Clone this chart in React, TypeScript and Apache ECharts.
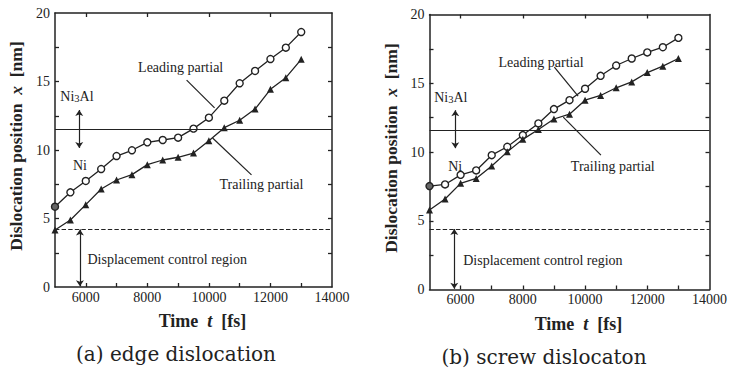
import React, { useEffect, useRef } from "react";
import * as echarts from "echarts";

// Sampling times [fs]
const times = [5000, 5500, 6000, 6500, 7000, 7500, 8000, 8500, 9000, 9500, 10000, 10500, 11000, 11500, 12000, 12500, 13000];

// Edge dislocation: partial positions [nm]
const edgeLeading = [5.86, 6.91, 7.74, 8.61, 9.56, 9.98, 10.56, 10.73, 10.9, 11.56, 12.36, 13.6, 14.87, 15.77, 16.64, 17.47, 18.61];
const edgeTrailing = [4.16, 4.89, 6.01, 7.15, 7.81, 8.2, 8.93, 9.27, 9.47, 9.78, 10.68, 11.63, 12.17, 12.99, 14.43, 15.28, 16.62];

// Screw dislocation: partial positions [nm]
const screwLeading = [7.52, 7.64, 8.34, 8.66, 9.77, 10.38, 11.23, 12.08, 13.12, 13.77, 14.6, 15.54, 16.29, 16.8, 17.24, 17.62, 18.3];
const screwTrailing = [5.78, 6.58, 7.72, 8.08, 8.98, 10.01, 10.92, 11.64, 12.4, 12.75, 13.77, 14.11, 14.67, 15.1, 15.78, 16.24, 16.8];

// Ni / Ni3Al interface and edge of the displacement-controlled region [nm]
const interfaceLevel = [11.5, 11.6];
const controlLevel = [4.2, 4.4];

// Axis ticks
const xTickLabels = [6000, 8000, 10000, 12000, 14000];
const xTicksBottom = [6000, 7000, 8000, 9000, 10000, 11000, 12000, 13000];
const xTicksTop = [6000, 8000, 10000, 12000];
const yTickLabels = [0, 5, 10, 15, 20];
const yTicks = [2.5, 5, 7.5, 10, 12.5, 15, 17.5];

const captions = ["(a) edge dislocation", "(b) screw dislocaton"];

const INK = "#222";
const SERIF = "'Liberation Serif', 'Times New Roman', serif";

type Note = { at: [number, number]; text: string };
type Seg = { from: [number, number]; to: [number, number]; arrows?: boolean };

// Annotation anchors in data coordinates (time, position)
const notesA: Note[] = [
  { at: [9083, 16.0], text: "Leading partial" },
  { at: [11708, 7.45], text: "Trailing partial" },
  { at: [5713, 13.87], text: "Ni{s|3}Al" },
  { at: [5810, 8.9], text: "Ni" },
  { at: [8646, 2.04], text: "Displacement control region" },
];
const segsA: Seg[] = [
  { from: [9277, 15.1], to: [10185, 13.07] },
  { from: [10120, 10.88], to: [11384, 8.18] },
  { from: [5787, 12.92], to: [5787, 10.15], arrows: true },
  { from: [5810, 4.2], to: [5810, 0.05], arrows: true },
];
const notesB: Note[] = [
  { at: [8583, 16.53], text: "Leading partial" },
  { at: [10892, 8.98], text: "Trailing partial" },
  { at: [5685, 13.99], text: "Ni{s|3}Al" },
  { at: [5828, 8.98], text: "Ni" },
  { at: [8646, 2.14], text: "Displacement control region" },
];
const segsB: Seg[] = [
  { from: [9013, 16.17], to: [9777, 14.06] },
  { from: [9299, 12.54], to: [10510, 9.77] },
  { from: [5828, 13.04], to: [5828, 10.28], arrows: true },
  { from: [5796, 4.4], to: [5796, 0.05], arrows: true },
];

const axisLine = { show: true, onZero: false, lineStyle: { color: INK, width: 1.5 } };
const plain = (v: number) => String(v);

function xAxes(grid: number) {
  return [
    {
      type: "value", gridIndex: grid, position: "bottom", min: 5000, max: 14000, interval: 1000,
      axisLine,
      axisTick: { show: true, inside: true, length: 4, customValues: xTicksBottom, lineStyle: { color: INK, width: 1.3 } },
      axisLabel: { customValues: xTickLabels, formatter: plain, color: INK, fontFamily: SERIF, fontSize: 14, margin: 3 },
      splitLine: { show: false },
      name: "Time  {i|t}  [fs]", nameLocation: "middle", nameGap: 25,
      nameTextStyle: {
        color: INK, fontFamily: SERIF, fontSize: 18, fontWeight: "bold", padding: [0, 0, 0, 18],
        rich: { i: { fontFamily: SERIF, fontSize: 18, fontWeight: "bold", fontStyle: "italic", color: INK } },
      },
    },
    {
      type: "value", gridIndex: grid, position: "top", min: 5000, max: 14000, interval: 1000,
      axisLine,
      axisTick: { show: true, inside: true, length: 4, customValues: xTicksTop, lineStyle: { color: INK, width: 1.3 } },
      axisLabel: { show: false }, splitLine: { show: false },
    },
  ];
}

function yAxes(grid: number) {
  return [
    {
      type: "value", gridIndex: grid, position: "left", min: 0, max: 20, interval: 2.5,
      axisLine,
      axisTick: { show: true, inside: true, length: 4, customValues: yTicks, lineStyle: { color: INK, width: 1.3 } },
      axisLabel: { customValues: yTickLabels, formatter: plain, color: INK, fontFamily: SERIF, fontSize: 14, margin: 5 },
      splitLine: { show: false },
      name: "Dislocation position  {i|x}  [nm]", nameLocation: "middle", nameGap: 30, nameRotate: 90,
      nameTextStyle: {
        color: INK, fontFamily: SERIF, fontSize: 17.5, fontWeight: "bold", padding: [0, 0, 0, 8],
        rich: { i: { fontFamily: SERIF, fontSize: 17.5, fontWeight: "bold", fontStyle: "italic", color: INK } },
      },
    },
    {
      type: "value", gridIndex: grid, position: "right", min: 0, max: 20, interval: 2.5,
      axisLine,
      axisTick: { show: true, inside: true, length: 4, customValues: yTicks, lineStyle: { color: INK, width: 1.3 } },
      axisLabel: { show: false }, splitLine: { show: false },
    },
  ];
}

function panelSeries(panel: number, leading: number[], trailing: number[], notes: Note[], segs: Seg[]) {
  const xi = panel * 2;
  const yi = panel * 2;
  const leadData = times.map((t, i) =>
    i === 0 ? { value: [t, leading[i]], itemStyle: { color: "#666" } } : [t, leading[i]]
  );
  const trailData = times.map((t, i) => [t, trailing[i]]);
  return [
    {
      type: "line", xAxisIndex: xi, yAxisIndex: yi, data: leadData,
      symbol: "circle", symbolSize: 7, showSymbol: true,
      lineStyle: { color: INK, width: 1.3 },
      itemStyle: { color: "#fff", borderColor: INK, borderWidth: 1.4 },
      z: 3,
      markLine: {
        silent: true, symbol: "none", label: { show: false },
        lineStyle: { color: INK, width: 1.2, type: "solid" },
        data: [
          { yAxis: interfaceLevel[panel], lineStyle: { type: "solid", width: 1.2, color: INK } },
          { yAxis: controlLevel[panel], lineStyle: { type: "dashed", width: 1.1, color: INK } },
          ...segs.map((s) => [
            { coord: s.from, symbol: s.arrows ? "arrow" : "none", symbolSize: 6 },
            { coord: s.to, symbol: s.arrows ? "arrow" : "none", symbolSize: 6 },
          ]),
        ],
      },
      markPoint: {
        silent: true, symbol: "circle", symbolSize: 1,
        itemStyle: { color: "transparent" },
        data: notes.map((n) => ({
          coord: n.at,
          label: {
            show: true, position: "inside", formatter: n.text,
            color: INK, fontFamily: SERIF, fontSize: 14,
            rich: { s: { fontFamily: SERIF, fontSize: 10.5, color: INK, verticalAlign: "bottom", padding: [4, 0, 0, 0] } },
          },
        })),
      },
    },
    {
      type: "line", xAxisIndex: xi, yAxisIndex: yi, data: trailData,
      symbol: "triangle", symbolSize: 7, showSymbol: true,
      lineStyle: { color: INK, width: 1.3 },
      itemStyle: { color: INK },
      z: 3,
    },
  ];
}

export default function App() {
  const ref = useRef<HTMLDivElement>(null);

  useEffect(() => {
    document.body.style.margin = "0";
    if (!ref.current) return;
    const chart = echarts.init(ref.current, undefined, { renderer: "svg" });
    chart.setOption({
      animation: false,
      backgroundColor: "#fff",
      grid: [
        { left: 55, top: 13, width: 277, height: 274 },
        { left: 429.5, top: 14.5, width: 283.5, height: 275 },
      ],
      xAxis: [...xAxes(0), ...xAxes(1)],
      yAxis: [...yAxes(0), ...yAxes(1)],
      series: [
        ...panelSeries(0, edgeLeading, edgeTrailing, notesA, segsA),
        ...panelSeries(1, screwLeading, screwTrailing, notesB, segsB),
      ],
      graphic: [
        {
          type: "text", x: 176, y: 354,
          style: { text: captions[0], fill: INK, font: "20px 'DejaVu Serif', serif", textAlign: "center", textVerticalAlign: "middle" },
        },
        {
          type: "text", x: 544, y: 357,
          style: { text: captions[1], fill: INK, font: "20px 'DejaVu Serif', serif", textAlign: "center", textVerticalAlign: "middle" },
        },
      ],
    });
    return () => chart.dispose();
  }, []);

  return <div ref={ref} style={{ width: 730, height: 368 }} />;
}
